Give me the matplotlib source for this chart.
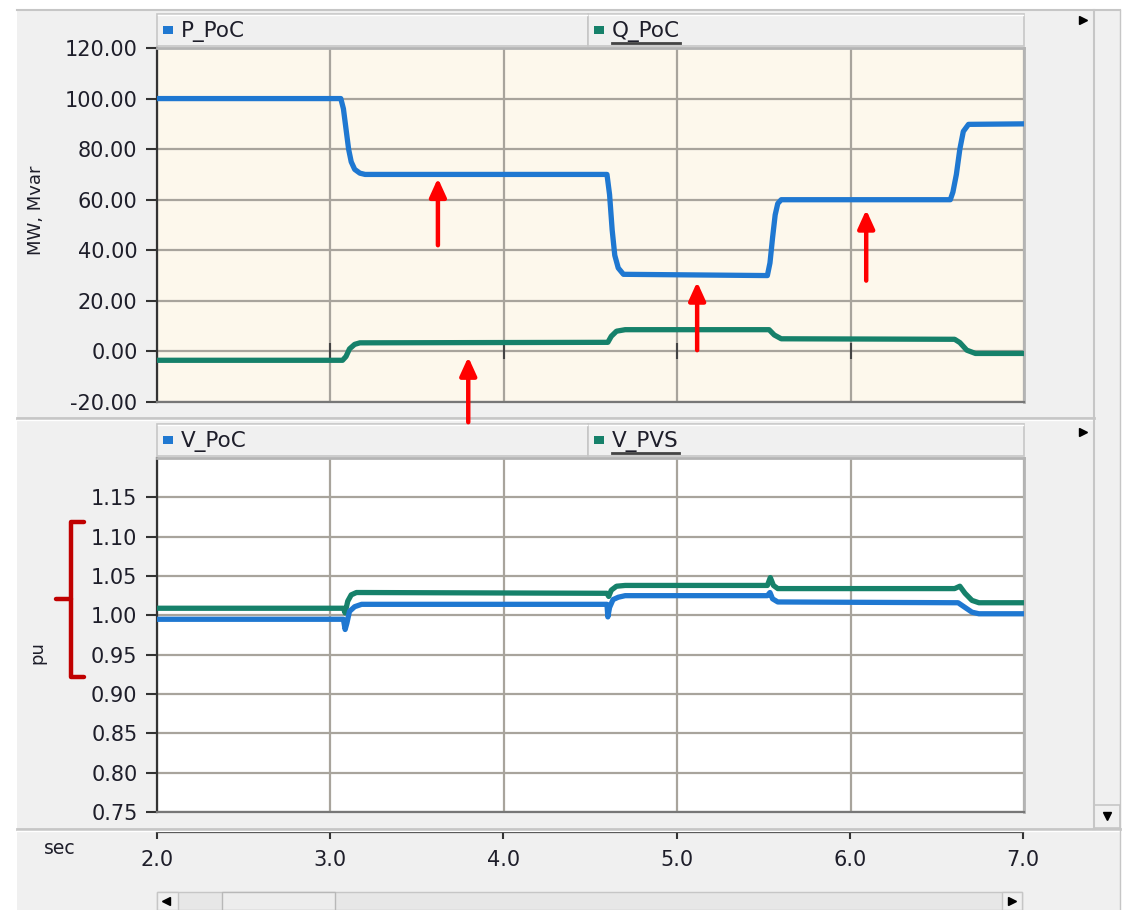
import matplotlib
matplotlib.use("Agg")
import matplotlib.pyplot as plt
from matplotlib.patches import Rectangle
from matplotlib.lines import Line2D
from matplotlib.ticker import FormatStrFormatter

plt.rcParams['font.family'] = ['DejaVu Sans']

# --- signals (time in sec) ---
p_t = [2.0, 3.06, 3.075, 3.09, 3.105, 3.12, 3.14, 3.17, 3.20,
       4.595, 4.61, 4.625, 4.64, 4.66, 4.69,
       5.52, 5.535, 5.55, 5.565, 5.58, 5.60,
       6.575, 6.59, 6.61, 6.63, 6.65, 6.68, 7.0]
p_poc = [100, 100, 96, 88, 80, 75, 72, 70.5, 70,
         70, 62, 48, 38, 33, 30.5,
         30, 35, 45, 54, 58.5, 60,
         60, 63, 70, 80, 87, 89.8, 90]

q_t = [2.0, 3.07, 3.09, 3.11, 3.14, 3.17, 4.60, 4.62, 4.65, 4.70,
       5.53, 5.56, 5.60, 6.60, 6.63, 6.67, 6.72, 7.0]
q_poc = [-3.5, -3.5, -2.0, 1.0, 2.8, 3.4, 3.6, 6.0, 8.0, 8.6,
         8.6, 6.5, 5.0, 4.8, 3.5, 0.5, -0.8, -0.8]

v_t1 = [2.0, 3.075, 3.085, 3.095, 3.11, 3.14, 3.18, 4.595, 4.60, 4.61, 4.63,
        4.66, 4.70, 5.52, 5.535, 5.55, 5.58, 6.62, 6.66, 6.70, 6.74, 7.0]
v_poc = [0.995, 0.995, 0.982, 0.990, 1.005, 1.011, 1.014, 1.014, 0.998, 1.010, 1.020,
         1.023, 1.025, 1.025, 1.029, 1.021, 1.017, 1.016, 1.010, 1.004, 1.002, 1.002]

v_t2 = [2.0, 3.075, 3.085, 3.10, 3.12, 3.15, 3.18, 4.595, 4.605, 4.62, 4.65,
        4.70, 5.52, 5.537, 5.555, 5.58, 6.60, 6.63, 6.66, 6.70, 6.74, 7.0]
v_pvs = [1.009, 1.009, 1.003, 1.018, 1.026, 1.029, 1.029, 1.028, 1.024, 1.032, 1.037,
         1.038, 1.038, 1.048, 1.038, 1.034, 1.034, 1.037, 1.028, 1.019, 1.016, 1.016]

x_ticks = [2.0, 3.0, 4.0, 5.0, 6.0, 7.0]
pq_ticks = [-20, 0, 20, 40, 60, 80, 100, 120]
v_ticks = [0.75, 0.80, 0.85, 0.90, 0.95, 1.00, 1.05, 1.10, 1.15]

# red markers on the power plot: time, tail value, head value
arrow_t = [3.62, 5.115, 6.09, 3.795]
arrow_tail = [42.0, 0.5, 28.0, -28.0]
arrow_head = [68.5, 27.5, 56.0, -2.2]

BLUE = '#1f78d1'
GREEN = '#16816a'
GRID = '#a8a49c'
PANEL = '#f0f0f0'
EDGE = '#c6c6c6'
TXT = '#1e1e2a'
LW = 3.8

W, H = 1127, 910
fig = plt.figure(figsize=(W / 100, H / 100), dpi=100)
fig.patch.set_facecolor('white')


def fx(x):
    return x / W


def fy(y):
    return 1 - y / H


def box(x0, y0, x1, y1):
    return [fx(x0), fy(y1), (x1 - x0) / W, (y1 - y0) / H]


def rect(x0, y0, x1, y1, **kw):
    fig.add_artist(Rectangle((fx(x0), fy(y1)), (x1 - x0) / W, (y1 - y0) / H,
                             transform=fig.transFigure, **kw))


def line(xs, ys, **kw):
    fig.add_artist(Line2D([fx(x) for x in xs], [fy(y) for y in ys],
                          transform=fig.transFigure, **kw))


# window chrome
rect(17, 10, 1120, 910, fc=PANEL, ec='none', zorder=0)
line([17, 1120], [10, 10], color=EDGE, lw=1.5)
line([17, 1094], [418, 418], color=EDGE, lw=2)
line([17, 1094], [420, 420], color='white', lw=1)
line([17, 1120], [829, 829], color=EDGE, lw=2)
line([17, 1120], [831, 831], color='white', lw=1)
line([1094, 1094], [10, 829], color=EDGE, lw=1.5)
line([1120, 1120], [10, 910], color=EDGE, lw=1)
rect(1094, 805, 1120, 828, fc=PANEL, ec=EDGE, lw=1.2)
line([1107], [816], marker='v', ms=6, color='black', ls='none')
line([1083], [20], marker='>', ms=6, color='black', ls='none')
line([1083], [432], marker='>', ms=6, color='black', ls='none')

# horizontal scroll bar
rect(157, 892, 1022, 910, fc='#e7e7e7', ec=EDGE, lw=1)
rect(157, 892, 178, 910, fc=PANEL, ec=EDGE, lw=1)
rect(1002, 892, 1022, 910, fc=PANEL, ec=EDGE, lw=1)
rect(222, 892, 335, 910, fc='#ededed', ec='#b8b8b8', lw=1)
line([166], [901], marker='<', ms=6, color='black', ls='none')
line([1012], [901], marker='>', ms=6, color='black', ls='none')


def legend_strip(y0, y1, names, colors, selected):
    texts = []
    for i, (x0, x1) in enumerate([(157, 588), (588, 1024)]):
        rect(x0, y0, x1, y1, fc=PANEL, ec=EDGE, lw=1.2)
        line([x0 + 1, x1 - 1], [y0 + 1, y0 + 1], color='white', lw=1)
        rect(x0 + 6, (y0 + y1) / 2 - 4, x0 + 16, (y0 + y1) / 2 + 4, fc=colors[i], ec='none')
        t = fig.text(fx(x0 + 24), fy((y0 + y1) / 2 + 1), names[i], fontsize=15.5,
                     color=TXT, ha='left', va='center')
        texts.append((t, i == selected))
    return texts


strips = legend_strip(14, 46, ['P_PoC', 'Q_PoC'], [BLUE, GREEN], 1)
strips += legend_strip(424, 456, ['V_PoC', 'V_PVS'], [BLUE, GREEN], 1)


def style_axes(ax, face):
    ax.set_facecolor(face)
    ax.set_xlim(2.0, 7.0)
    ax.set_xticks(x_ticks)
    ax.tick_params(axis='x', length=0, labelbottom=False)
    ax.tick_params(axis='y', length=8, width=1.5, color='#333333', pad=6,
                   labelsize=15, labelcolor=TXT)
    ax.yaxis.set_major_formatter(FormatStrFormatter('%.2f'))
    ax.grid(True, color=GRID, lw=1.6)
    ax.set_axisbelow(True)
    ax.spines['left'].set_color('#333333')
    ax.spines['left'].set_linewidth(1.6)
    ax.spines['bottom'].set_color('#777777')
    ax.spines['bottom'].set_linewidth(1.6)
    for s in ('top', 'right'):
        ax.spines[s].set_color('#b4b4b4')
        ax.spines[s].set_linewidth(2)


# P / Q plot
ax1 = fig.add_axes(box(157, 48, 1024, 402))
ax1.set_zorder(5)
style_axes(ax1, '#fdf8ec')
ax1.set_ylim(-20, 120)
ax1.set_yticks(pq_ticks)
ax1.plot(x_ticks[1:-1], [0] * 4, ls='none', marker='|', ms=12, mew=1.5,
         color='#444444', zorder=1.5)
ax1.plot(p_t, p_poc, color=BLUE, lw=LW, zorder=3)
ax1.plot(q_t, q_poc, color=GREEN, lw=LW, zorder=3)

for t, y0, y1 in zip(arrow_t, arrow_tail, arrow_head):
    ax1.annotate('', xy=(t, y1), xytext=(t, y0), annotation_clip=False,
                 arrowprops=dict(arrowstyle='-|>,head_width=0.5,head_length=1.1',
                                 color='#ff0000', lw=3.2, shrinkA=0, shrinkB=0),
                 zorder=5)

# voltage plot
ax2 = fig.add_axes(box(157, 458, 1024, 812))
style_axes(ax2, 'white')
ax2.set_ylim(0.75, 1.20)
ax2.set_yticks(v_ticks)
ax2.plot(v_t2, v_pvs, color=GREEN, lw=LW, zorder=3)
ax2.plot(v_t1, v_poc, color=BLUE, lw=LW, zorder=3)

# shared time axis
ax3 = fig.add_axes(box(157, 831, 1023, 832))
ax3.set_facecolor('none')
for s in ('top', 'left', 'right'):
    ax3.spines[s].set_visible(False)
ax3.spines['bottom'].set_color('#333333')
ax3.spines['bottom'].set_linewidth(1.6)
ax3.set_xlim(2.0, 7.0)
ax3.set_xticks(x_ticks)
ax3.set_yticks([])
ax3.xaxis.set_major_formatter(FormatStrFormatter('%.1f'))
ax3.tick_params(axis='x', length=5, width=1.5, color='#333333', pad=8,
                labelsize=15, labelcolor=TXT)

fig.text(fx(36), fy(210), 'MW, Mvar', rotation=90, fontsize=13, color=TXT,
         ha='center', va='center')
fig.text(fx(37), fy(653), 'pu', rotation=90, fontsize=13, color=TXT,
         ha='center', va='center')
fig.text(fx(60), fy(848), 'sec', fontsize=13.5, color=TXT, ha='center', va='center')

# bracket next to the voltage axis
line([84, 71, 71, 84], [522, 522, 677, 677], color='#c00000', lw=3.2,
     solid_joinstyle='round', solid_capstyle='round')
line([56, 71], [599, 599], color='#c00000', lw=3.2, solid_capstyle='round')

# underline the selected channel names
fig.canvas.draw()
renderer = fig.canvas.get_renderer()
for t, sel in strips:
    if sel:
        bb = t.get_window_extent(renderer)
        fig.add_artist(Line2D([bb.x0 / W, bb.x1 / W], [(bb.y0 - 1) / H] * 2,
                              transform=fig.transFigure, color='#444444', lw=2))

fig.savefig('out.png', dpi=100, facecolor=fig.get_facecolor())
